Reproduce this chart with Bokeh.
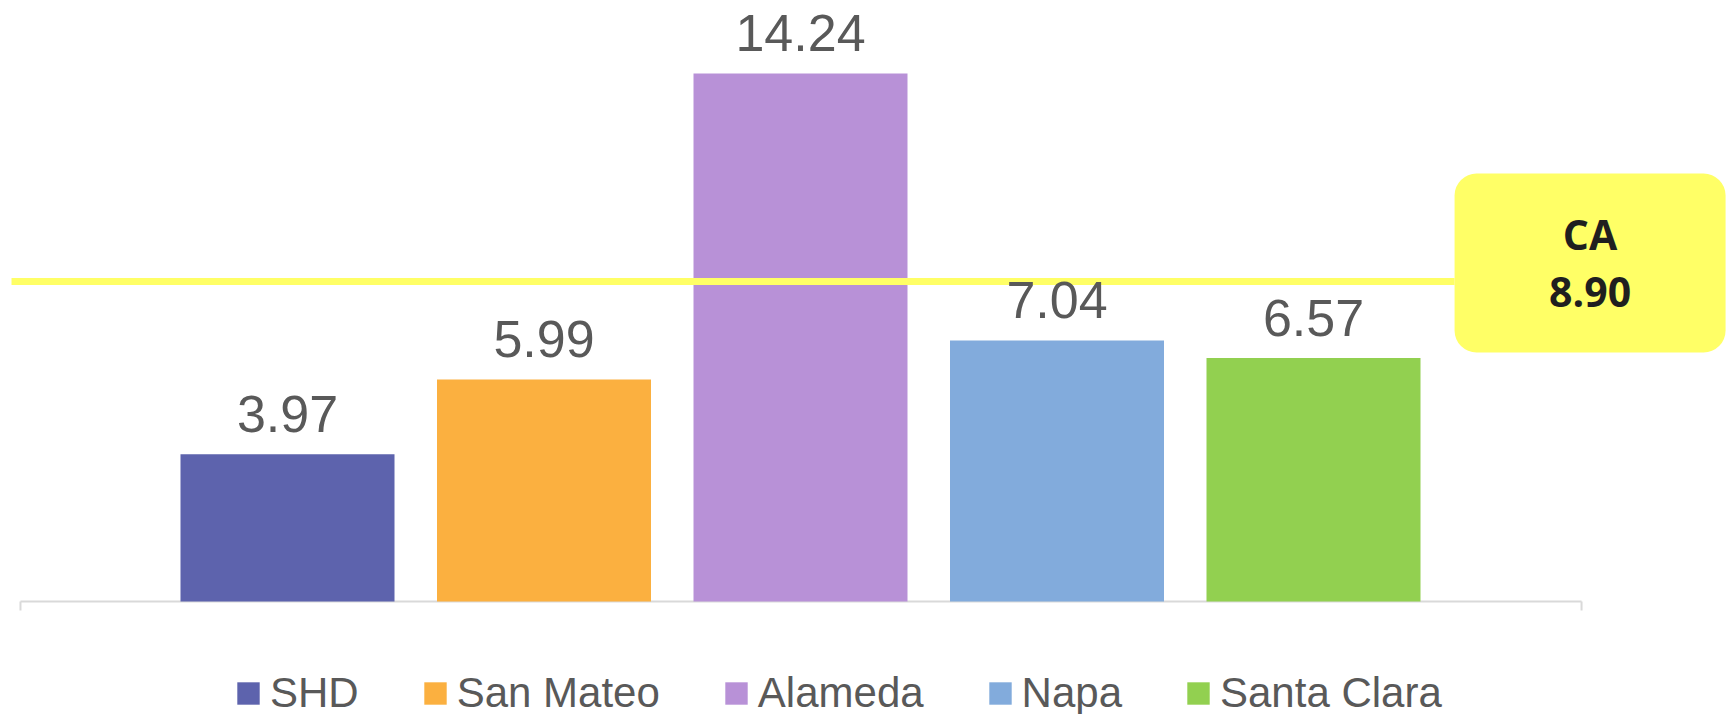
from bokeh.plotting import figure
from bokeh.models import Range1d, ColumnDataSource, LabelSet, Legend, LegendItem, BoxAnnotation
from bokeh.core.properties import value
from bokeh.embed import file_html
from bokeh.resources import INLINE

# ---- data ----
categories = ["SHD", "San Mateo", "Alameda", "Napa", "Santa Clara"]
values = [3.97, 5.99, 14.24, 7.04, 6.57]
bar_colors = ["#5D63AD", "#FBB040", "#B891D7", "#82ABDC", "#92D050"]
ca_label = "CA"
ca_value = 8.90
ca_line_level = 8.63  # where the reference line is drawn in the picture

# ---- layout ----
W, H = 1729, 714
x_px = 256.5           # pixels per category step
y_px = 37.08           # pixels per unit
first_center_px = 287  # canvas px of first category center
zero_px = 601          # canvas px (from top) of y = 0

x0 = -first_center_px / x_px
x1 = (W - first_center_px) / x_px
y1 = zero_px / y_px
y0 = -(H - zero_px) / y_px

p = figure(width=W, height=H, output_backend="svg", toolbar_location=None,
           x_range=Range1d(x0, x1), y_range=Range1d(y0, y1),
           x_axis_location=None, y_axis_location=None, min_border=0,
           outline_line_color=None, background_fill_color="white",
           border_fill_color="white")
p.xgrid.visible = False
p.ygrid.visible = False

xs = list(range(len(categories)))
bar_w = 214 / x_px

# axis baseline with end ticks
ax_l, ax_r = -1.041, 5.045
p.segment(x0=[ax_l], y0=[0], x1=[ax_r], y1=[0], line_color="#D9D9D9", line_width=2)
p.segment(x0=[ax_l, ax_r], y0=[0, 0], x1=[ax_l, ax_r], y1=[-9 / y_px, -9 / y_px],
          line_color="#D9D9D9", line_width=2)

items = []
for i, (c, v, col) in enumerate(zip(categories, values, bar_colors)):
    src = ColumnDataSource(dict(x=[xs[i]], top=[v]))
    r = p.vbar(x="x", top="top", bottom=0, width=bar_w, source=src,
               fill_color=col, line_color=None)
    items.append(LegendItem(label=c, renderers=[r]))

lab_src = ColumnDataSource(dict(x=xs, y=values, t=[f"{v:.2f}" for v in values]))
p.add_layout(LabelSet(x="x", y="y", text="t", source=lab_src, y_offset=22,
                      text_align="center", text_baseline="alphabetic",
                      text_font=value("Liberation Sans"), text_font_size="52px",
                      text_color="#595959"))

# CA reference line and callout box
box_l = 4.550
p.segment(x0=[-1.076], y0=[ca_line_level], x1=[box_l], y1=[ca_line_level],
          line_color="#FFFF66", line_width=7)
p.add_layout(BoxAnnotation(left=box_l, right=box_l + 271 / x_px,
                           bottom=ca_line_level - 71 / y_px, top=ca_line_level + 108 / y_px,
                           fill_color="#FFFF66", fill_alpha=1.0, line_color=None,
                           border_radius=22))
cx = box_l + 135.5 / x_px
ca_src = ColumnDataSource(dict(
    x=[cx, cx],
    y=[ca_line_level + 31 / y_px, ca_line_level - 25.7 / y_px],
    t=[ca_label, f"{ca_value:.2f}"]))
p.add_layout(LabelSet(x="x", y="y", text="t", source=ca_src,
                      text_align="center", text_baseline="alphabetic",
                      text_font=value("Open Sans"), text_font_style="bold",
                      text_font_size="41px", text_color="#1F1F1F"))

legend = Legend(items=items, orientation="horizontal", location=(234, -3),
                glyph_width=28, glyph_height=28, label_standoff=8, spacing=62,
                padding=0, margin=0, border_line_color=None, background_fill_alpha=0,
                label_text_font="Liberation Sans", label_text_font_size="42px",
                label_text_color="#595959")
p.add_layout(legend, "center")

open("out.html", "w").write(file_html(p, INLINE))
